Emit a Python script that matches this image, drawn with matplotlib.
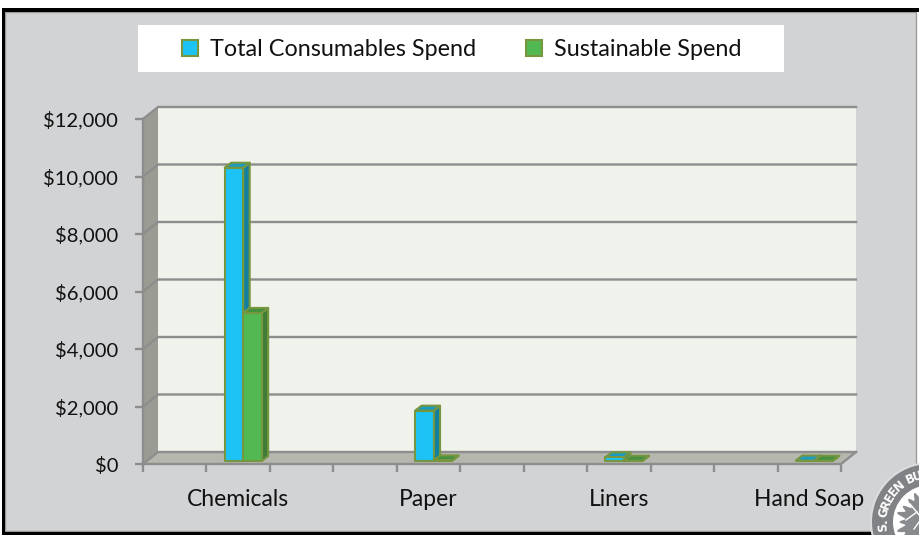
import numpy as np
import matplotlib
matplotlib.use("Agg")
import matplotlib.pyplot as plt
from matplotlib.patches import Polygon, Rectangle, Circle, Patch
from matplotlib.ticker import FuncFormatter

# ---- data ----
categories = ["Chemicals", "Paper", "Liners", "Hand Soap"]
category_slots = [1.5, 4.5, 7.5, 10.5]
total_spend = [10200, 1750, 130, 15]
sustainable_spend = [5150, 20, 10, 10]
series_names = ["Total Consumables Spend", "Sustainable Spend"]
y_ticks = [0, 2000, 4000, 6000, 8000, 10000, 12000]

W, H = 919, 535
plt.rcParams['font.family'] = ['Lato', 'DejaVu Sans']
fig = plt.figure(figsize=(W / 100, H / 100), dpi=100, facecolor='white')

# background layer in pixel coordinates
bg = fig.add_axes([0, 0, 1, 1], zorder=0)
bg.set_xlim(0, W); bg.set_ylim(H, 0); bg.axis('off')
bg.add_patch(Rectangle((5, 12), 911, 519, fc='#d2d3d5', ec='#9a9a9a', lw=1))
bg.add_patch(Rectangle((2, 8), 3, 527, fc='black', ec='none'))
bg.add_patch(Rectangle((2, 8), 917, 4, fc='black', ec='none'))
bg.add_patch(Rectangle((2, 531.5), 917, 3.5, fc='black', ec='none'))
bg.add_patch(Rectangle((138, 25), 646, 47, fc='white', ec='none'))

# chart: front plane of the 3-D box
L, R, T, B = 143, 841, 119, 464
ax = fig.add_axes([L / W, 1 - B / H, (R - L) / W, (B - T) / H], zorder=1)
ax.set_xlim(0, 11); ax.set_ylim(0, 12000)
ax.patch.set_visible(False)
for s in ax.spines.values():
    s.set_visible(False)

px_x = 11 / (R - L)
px_y = 12000 / (B - T)
WALL_DX, WALL_DY = 15 * px_x, 12 * px_y
GRID = '#8c8d8c'

x0, x1 = ax.get_xlim()
y0, y1 = ax.get_ylim()
ax.add_patch(Polygon([(x0 + WALL_DX, y0 + WALL_DY), (x1 + WALL_DX, y0 + WALL_DY),
                      (x1 + WALL_DX, y1 + WALL_DY), (x0 + WALL_DX, y1 + WALL_DY)],
                     fc='#f0f3ec', ec='none', clip_on=False, zorder=1))
ax.add_patch(Polygon([(x0, y0), (x0 + WALL_DX, y0 + WALL_DY),
                      (x0 + WALL_DX, y1 + WALL_DY), (x0, y1)],
                     fc='#9a9b92', ec='none', clip_on=False, zorder=1))
ax.add_patch(Polygon([(x0, y0), (x1, y0), (x1 + WALL_DX, y0 + WALL_DY), (x0 + WALL_DX, y0 + WALL_DY)],
                     fc='#b5b7ae', ec='none', clip_on=False, zorder=1))
for t in y_ticks:
    ax.plot([x0, x0 + WALL_DX, x1 + WALL_DX], [t, t + WALL_DY, t + WALL_DY],
            color=GRID, lw=1.7, clip_on=False, zorder=2, solid_joinstyle='miter')
ax.plot([x0, x1, x1 + WALL_DX], [y0, y0, y0 + WALL_DY], color=GRID, lw=1.7, clip_on=False, zorder=2)
ax.plot([x0, x0], [y0, y1], color=GRID, lw=1.7, clip_on=False, zorder=2)

# bars
BAR_W = 18.5 * px_x
SHIFT = 5 * px_x
BASE = 3 * px_y
DEPTH_X, DEPTH_Y = 6.5 * px_x, 5 * px_y
EDGE = '#76963f'


def bar3d(x_left, value, front, top, side, z):
    xa, xb = x_left, x_left + BAR_W
    ya, yb = BASE, BASE + value
    kw = dict(ec=EDGE, lw=1.5, clip_on=False, zorder=z, joinstyle='round')
    ax.add_patch(Polygon([(xb, ya), (xb + DEPTH_X, ya + DEPTH_Y), (xb + DEPTH_X, yb + DEPTH_Y), (xb, yb)], fc=side, **kw))
    ax.add_patch(Polygon([(xa, yb), (xb, yb), (xb + DEPTH_X, yb + DEPTH_Y), (xa + DEPTH_X, yb + DEPTH_Y)], fc=top, **kw))
    ax.add_patch(Polygon([(xa, ya), (xb, ya), (xb, yb), (xa, yb)], fc=front, **kw))


for c, a, b in zip(category_slots, total_spend, sustainable_spend):
    mid = c + SHIFT
    bar3d(mid - BAR_W, a, '#1cc3f4', '#1a9cc2', '#12809f', 3)
    bar3d(mid, b, '#52b851', '#43913f', '#3f7d36', 4)

# axes ticks and labels
ax.set_yticks(y_ticks)
ax.yaxis.set_major_formatter(FuncFormatter(lambda v, p: f"${int(v):,}"))
ax.set_xticks(range(12))
ax.set_xticklabels([])
ax.set_xticks(category_slots, minor=True)
ax.set_xticklabels(categories, minor=True)
ax.tick_params(axis='both', which='major', length=6, width=1.7, color=GRID)
ax.tick_params(axis='x', which='minor', length=0, pad=18, labelsize=16.5, labelcolor='#111111')
ax.tick_params(axis='y', which='major', pad=12, labelsize=14.5, labelcolor='#111111')

# legend
handles = [Patch(fc='#1cc3f4', ec=EDGE, lw=1.5), Patch(fc='#52b851', ec=EDGE, lw=1.5)]
fig.legend(handles, series_names, loc='center left',
           bbox_to_anchor=(182 / W, 1 - 49.5 / H), ncol=2, frameon=False, fontsize=16.8,
           handlelength=0.685, handleheight=0.685, handletextpad=0.51, columnspacing=2.14,
           borderpad=0, borderaxespad=0, labelcolor='#111111')

# seal in the corner
seal = fig.add_axes([0, 0, 1, 1], zorder=5)
seal.set_xlim(0, W); seal.set_ylim(H, 0); seal.axis('off')
cx, cy = 930, 522
seal.add_patch(Circle((cx, cy), 60, fc='#dcdddf', ec='none'))
seal.add_patch(Circle((cx, cy), 58, fc='#818285', ec='none'))
seal.add_patch(Circle((cx, cy), 37, fc='white', ec='none'))
ang = np.radians(np.linspace(90, 270, 240))
rad = 27 + 3.5 * np.cos(ang * 22) + 2 * np.cos(ang * 9)
seal.add_patch(Polygon(np.c_[cx - 2 + rad * np.cos(ang), cy + rad * np.sin(ang)],
                       fc='#8a8b8e', ec='none'))
seal.plot([cx - 20, cx + 5], [cy - 18, cy + 12], color='white', lw=1)
seal.plot([cx - 24, cx - 13], [cy - 2, cy - 10], color='white', lw=1)
seal.plot([cx - 16, cx - 8], [cy + 7, cy - 4], color='white', lw=1)
seal_letters = ["S", ".", "G", "R", "E", "E", "N", "B", "U"]
seal_angles = [186, 178, 168, 158.5, 149, 139.5, 130, 114, 105]
for ch, deg in zip(seal_letters, seal_angles):
    a = np.radians(deg)
    seal.text(cx + 47 * np.cos(a), cy - 47 * np.sin(a), ch, color='white', fontsize=8.5,
              fontweight='bold', ha='center', va='center',
              rotation=deg - 90, rotation_mode='anchor', family='DejaVu Sans')

fig.savefig('out.png', dpi=100, facecolor='white')
